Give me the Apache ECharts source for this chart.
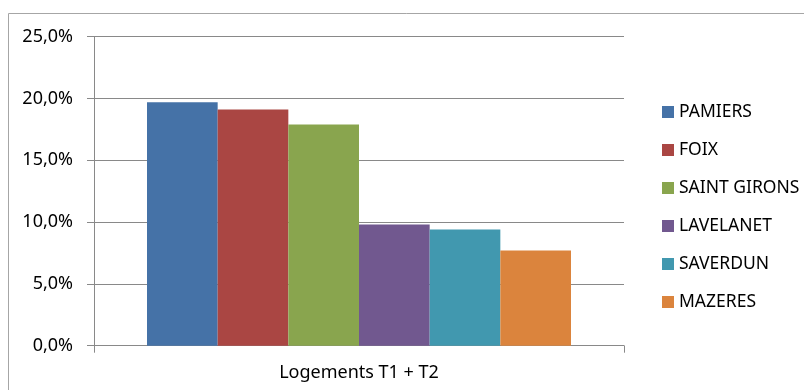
<!DOCTYPE html>
<html>
<head>
<meta charset="utf-8">
<script src="https://cdn.jsdelivr.net/npm/echarts@6/dist/echarts.min.js"></script>
<style>
  html, body { margin: 0; padding: 0; background: #fff; }
  #chart { width: 804px; height: 390px; }
</style>
</head>
<body>
<div id="chart"></div>
<script>
// Share of T1 + T2 dwellings per town (percent)
const categories = ['Logements T1 + T2'];
const towns = ['PAMIERS', 'FOIX', 'SAINT GIRONS', 'LAVELANET', 'SAVERDUN', 'MAZERES'];
const PAMIERS = [19.7];
const FOIX = [19.1];
const SAINT_GIRONS = [17.9];
const LAVELANET = [9.8];
const SAVERDUN = [9.4];
const MAZERES = [7.7];
const townValues = [PAMIERS, FOIX, SAINT_GIRONS, LAVELANET, SAVERDUN, MAZERES];
const townColors = ['#4572A7', '#AA4643', '#89A54E', '#71588F', '#4198AF', '#DB843D'];

const FONT = '"Noto Sans", sans-serif';
const AXIS_GRAY = '#898989';

const chart = echarts.init(document.getElementById('chart'), null, { renderer: 'canvas' });

chart.setOption({
  animation: false,
  backgroundColor: '#ffffff',
  textStyle: { fontFamily: FONT },
  graphic: [{
    // chart frame (extends past the right and bottom edges)
    type: 'rect',
    shape: { x: 8.5, y: 13.5, width: 1000, height: 1000 },
    style: { fill: 'none', stroke: '#a6a6a6', lineWidth: 1 },
    silent: true,
    z: -10
  }],
  grid: { left: 94, right: 180, top: 36.7, bottom: 44.3, containLabel: false },
  legend: {
    orient: 'vertical',
    left: 657,
    top: 98,
    itemWidth: 12,
    itemHeight: 12,
    itemGap: 20,
    icon: 'rect',
    data: towns,
    textStyle: { fontFamily: FONT, fontSize: 17.5, color: '#000', lineHeight: 18 }
  },
  xAxis: {
    type: 'category',
    data: categories,
    axisLine: { lineStyle: { color: AXIS_GRAY, width: 1 } },
    axisTick: { show: true, length: 7, alignWithLabel: false, lineStyle: { color: AXIS_GRAY } },
    axisLabel: { fontFamily: FONT, fontSize: 18, color: '#000', margin: 18 }
  },
  yAxis: {
    type: 'value',
    min: 0,
    max: 25,
    interval: 5,
    axisLine: { show: true, lineStyle: { color: AXIS_GRAY, width: 1 } },
    axisTick: { show: true, length: 7, lineStyle: { color: AXIS_GRAY } },
    splitLine: { show: true, lineStyle: { color: AXIS_GRAY, width: 1 } },
    axisLabel: {
      fontFamily: FONT, fontSize: 18, color: '#000', margin: 21,
      formatter: v => v.toFixed(1).replace('.', ',') + '%'
    }
  },
  series: towns.map((name, i) => ({
    name: name,
    type: 'bar',
    data: townValues[i],
    barGap: '0%',
    barCategoryGap: '20%',
    itemStyle: { color: townColors[i] }
  }))
});
</script>
</body>
</html>
